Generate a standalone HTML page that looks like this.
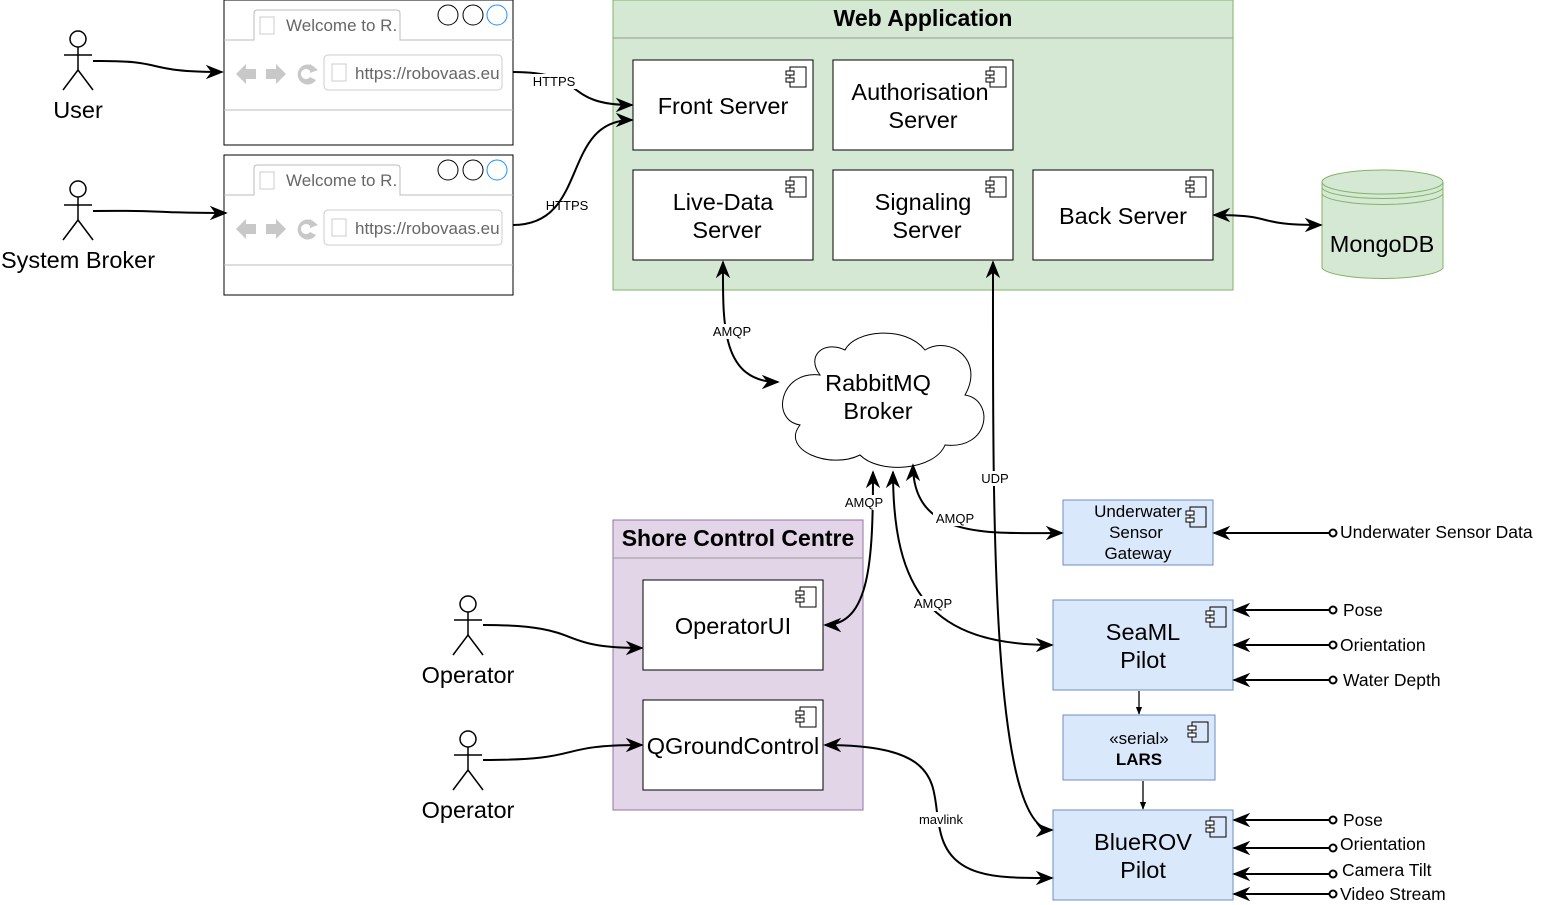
<!DOCTYPE html>
<html><head><meta charset="utf-8"><style>body{margin:0;background:#fff}svg{display:block;font-family:"Liberation Sans",Arial,sans-serif}</style></head><body>
<svg width="1544" height="905" viewBox="0 0 1544 905" xmlns="http://www.w3.org/2000/svg">
<defs>
<marker id="a" viewBox="0 0 10 10" refX="9" refY="5" markerWidth="9" markerHeight="9" orient="auto-start-reverse"><path d="M0,1 L10,5 L0,9 L3,5 Z" fill="#000"/></marker>
<marker id="s" viewBox="0 0 10 10" refX="9" refY="5" markerWidth="6" markerHeight="6" orient="auto-start-reverse"><path d="M0,1 L10,5 L0,9 Z" fill="#000"/></marker>
<marker id="o" viewBox="0 0 10 10" refX="5" refY="5" markerWidth="5" markerHeight="5"><circle cx="5" cy="5" r="3.5" fill="#fff" stroke="#000" stroke-width="2"/></marker>
<g id="ci"><rect x="4" y="0" width="16" height="20" fill="none" stroke="#000"/><rect x="0" y="4" width="8" height="4" fill="#fff" stroke="#000"/><rect x="0" y="11" width="8" height="4" fill="#fff" stroke="#000"/></g>
<g id="act" fill="none" stroke="#000" stroke-width="1.5"><circle cx="0" cy="9" r="8" fill="#fff"/><line x1="0" y1="17" x2="0" y2="40"/><line x1="-14" y1="25" x2="14" y2="25"/><line x1="0" y1="40" x2="-15" y2="60"/><line x1="0" y1="40" x2="15" y2="60"/></g>
</defs>

<g transform="translate(224,0)"><rect x="0" y="0" width="289" height="145" fill="#fff" stroke="#000"/>
<path d="M0,40 H30 V13 Q30,10 34,10 H172 Q176,10 176,13 V40 H289" fill="none" stroke="#bbb"/>
<line x1="0" y1="110" x2="289" y2="110" stroke="#bbb"/>
<rect x="36" y="17" width="14" height="17" fill="none" stroke="#ccc"/>
<text x="62" y="31" font-size="17" fill="#666">Welcome to R.</text>
<circle cx="224" cy="15" r="10" fill="#fff" stroke="#000"/><circle cx="249" cy="15" r="10" fill="#fff" stroke="#000"/><circle cx="273" cy="15" r="10" fill="#fff" stroke="#1e90ff"/>
<path d="M12,74 L22,64 V69 H32 V79 H22 V84 Z" fill="#c8c8c8"/><path d="M62,74 L52,64 V69 H42 V79 H52 V84 Z" fill="#c8c8c8"/>
<path d="M92,69 A10,10 0 1 0 92,80 L86,77 A5,5 0 1 1 86,71 Z" fill="#c8c8c8"/><path d="M86,64 L94,70 L86,73 Z" fill="#c8c8c8"/>
<rect x="100" y="55" width="178" height="35" rx="4" fill="#fff" stroke="#ccc"/>
<rect x="108" y="64" width="14" height="17" fill="none" stroke="#ccc"/>
<text x="131" y="79" font-size="17" fill="#666">https://robovaas.eu</text></g>
<g transform="translate(224,155)"><rect x="0" y="0" width="289" height="140" fill="#fff" stroke="#000"/>
<path d="M0,40 H30 V13 Q30,10 34,10 H172 Q176,10 176,13 V40 H289" fill="none" stroke="#bbb"/>
<line x1="0" y1="110" x2="289" y2="110" stroke="#bbb"/>
<rect x="36" y="17" width="14" height="17" fill="none" stroke="#ccc"/>
<text x="62" y="31" font-size="17" fill="#666">Welcome to R.</text>
<circle cx="224" cy="15" r="10" fill="#fff" stroke="#000"/><circle cx="249" cy="15" r="10" fill="#fff" stroke="#000"/><circle cx="273" cy="15" r="10" fill="#fff" stroke="#1e90ff"/>
<path d="M12,74 L22,64 V69 H32 V79 H22 V84 Z" fill="#c8c8c8"/><path d="M62,74 L52,64 V69 H42 V79 H52 V84 Z" fill="#c8c8c8"/>
<path d="M92,69 A10,10 0 1 0 92,80 L86,77 A5,5 0 1 1 86,71 Z" fill="#c8c8c8"/><path d="M86,64 L94,70 L86,73 Z" fill="#c8c8c8"/>
<rect x="100" y="55" width="178" height="35" rx="4" fill="#fff" stroke="#ccc"/>
<rect x="108" y="64" width="14" height="17" fill="none" stroke="#ccc"/>
<text x="131" y="79" font-size="17" fill="#666">https://robovaas.eu</text></g>

<use href="#act" x="78" y="30"/><text x="78" y="118" font-size="23.5" text-anchor="middle">User</text>
<use href="#act" x="78" y="180"/><text x="78" y="268" font-size="23.5" text-anchor="middle">System Broker</text>
<use href="#act" x="468" y="595"/><text x="468" y="683" font-size="23.5" text-anchor="middle">Operator</text>
<use href="#act" x="468" y="730"/><text x="468" y="818" font-size="23.5" text-anchor="middle">Operator</text>

<rect x="613" y="0" width="620" height="290" fill="#d5e8d4" stroke="#82b366"/>
<line x1="613" y1="38" x2="1233" y2="38" stroke="#999"/>
<text x="923" y="26" font-size="23" font-weight="bold" text-anchor="middle">Web Application</text>
<g fill="#fff" stroke="#000"><rect x="633" y="60" width="180" height="90"/><rect x="833" y="60" width="180" height="90"/><rect x="633" y="170" width="180" height="90"/><rect x="833" y="170" width="180" height="90"/><rect x="1033" y="170" width="180" height="90"/></g>
<use href="#ci" x="786" y="67"/><use href="#ci" x="986" y="67"/><use href="#ci" x="786" y="177"/><use href="#ci" x="986" y="177"/><use href="#ci" x="1186" y="177"/>
<g font-size="23.5" text-anchor="middle">
<text x="723" y="114">Front Server</text>
<text x="920" y="100">Authorisation</text><text x="923" y="128">Server</text>
<text x="723" y="210">Live-Data</text><text x="727" y="238">Server</text>
<text x="923" y="210">Signaling</text><text x="927" y="238">Server</text>
<text x="1123" y="224">Back Server</text>
</g>
<path d="M1322,182 V268 A61,12 0 0 0 1443,268 V182" fill="#d5e8d4" stroke="#82b366"/>
<ellipse cx="1382.5" cy="182" rx="60.5" ry="12" fill="#d5e8d4" stroke="#82b366"/>
<path d="M1322,188 A61,12 0 0 0 1443,188 M1322,194 A61,12 0 0 0 1443,194" fill="none" stroke="#82b366"/>
<text x="1382" y="252" font-size="23.5" text-anchor="middle">MongoDB</text>
<path d="M820,375 C780,370 770,420 800,425 C780,450 830,470 860,455 C880,475 935,470 945,445 C990,450 995,400 965,395 C985,360 950,335 925,350 C905,325 855,330 845,350 C825,340 805,355 820,375 Z" fill="#fff" stroke="#000"/>
<text x="878" y="391" font-size="23.5" text-anchor="middle">RabbitMQ</text><text x="878" y="419" font-size="23.5" text-anchor="middle">Broker</text>
<rect x="613" y="520" width="250" height="290" fill="#e1d5e7" stroke="#9673a6"/>
<line x1="613" y1="558" x2="863" y2="558" stroke="#999"/>
<text x="738" y="546" font-size="23" font-weight="bold" text-anchor="middle">Shore Control Centre</text>
<rect x="643" y="580" width="180" height="90" fill="#fff" stroke="#000"/><rect x="643" y="700" width="180" height="90" fill="#fff" stroke="#000"/>
<use href="#ci" x="796" y="587"/><use href="#ci" x="796" y="707"/>
<text x="733" y="634" font-size="23.5" text-anchor="middle">OperatorUI</text>
<text x="733" y="754" font-size="23.5" text-anchor="middle">QGroundControl</text>
<g fill="#dae8fc" stroke="#6c8ebf"><rect x="1063" y="500" width="150" height="65"/><rect x="1053" y="600" width="180" height="90"/><rect x="1063" y="715" width="152" height="65"/><rect x="1053" y="810" width="180" height="90"/></g>
<use href="#ci" x="1186" y="507"/><use href="#ci" x="1206" y="607"/><use href="#ci" x="1188" y="722"/><use href="#ci" x="1206" y="817"/>
<g text-anchor="middle">
<text x="1138" y="517" font-size="17">Underwater</text><text x="1136" y="538" font-size="17">Sensor</text><text x="1138" y="559" font-size="17">Gateway</text>
<text x="1143" y="640" font-size="23.5">SeaML</text><text x="1143" y="668" font-size="23.5">Pilot</text>
<text x="1139" y="744" font-size="17">«serial»</text><text x="1139" y="765" font-size="17" font-weight="bold">LARS</text>
<text x="1143" y="850" font-size="23.5">BlueROV</text><text x="1143" y="878" font-size="23.5">Pilot</text>
</g>
<g fill="none" stroke="#000" stroke-width="2">
<path d="M93,61 C170,60 140,72 222,72" marker-end="url(#a)"/>
<path d="M93,211 C170,210 140,213 226,213" marker-end="url(#a)"/>
<path d="M513,72 C590,72 560,105 632,105" marker-end="url(#a)"/>
<path d="M513,225 C590,225 560,120 632,120" marker-end="url(#a)"/>
<path d="M1214,215 C1280,215 1250,225 1321,225" marker-start="url(#a)" marker-end="url(#a)"/>
<path d="M723,262 C723,320 720,382 778,382" marker-start="url(#a)" marker-end="url(#a)"/>
<path d="M993,262 C993,500 990,830 1052,830" marker-start="url(#a)" marker-end="url(#a)"/>
<path d="M873,472 C873,560 870,625 825,625" marker-start="url(#a)" marker-end="url(#a)"/>
<path d="M913,465 C913,540 990,533 1062,533" marker-start="url(#a)" marker-end="url(#a)"/>
<path d="M893,472 C893,590 930,645 1052,645" marker-start="url(#a)" marker-end="url(#a)"/>
<path d="M483,625 C590,625 550,648 642,648" marker-end="url(#a)"/>
<path d="M483,760 C590,760 550,745 642,745" marker-end="url(#a)"/>
<path d="M825,745 C950,745 930,790 940,830 C950,880 1000,878 1052,878" marker-start="url(#a)" marker-end="url(#a)"/>
<path d="M1333,533 H1214" marker-start="url(#o)" marker-end="url(#a)"/>
<path d="M1333,610 H1234" marker-start="url(#o)" marker-end="url(#a)"/>
<path d="M1333,645 H1234" marker-start="url(#o)" marker-end="url(#a)"/>
<path d="M1333,680 H1234" marker-start="url(#o)" marker-end="url(#a)"/>
<path d="M1333,820 H1234" marker-start="url(#o)" marker-end="url(#a)"/>
<path d="M1333,848 H1234" marker-start="url(#o)" marker-end="url(#a)"/>
<path d="M1333,874 H1234" marker-start="url(#o)" marker-end="url(#a)"/>
<path d="M1333,894 H1234" marker-start="url(#o)" marker-end="url(#a)"/>
</g>
<g fill="none" stroke="#000" stroke-width="1.3"><path d="M1139,691 V714" marker-end="url(#s)"/><path d="M1143,781 V809" marker-end="url(#s)"/></g>
<g font-size="13" text-anchor="middle">
<rect x="530" y="74" width="48" height="15" fill="#fff"/><text x="554" y="86">HTTPS</text>
<rect x="543" y="198" width="48" height="15" fill="#d5e8d4" opacity="0"/><text x="567" y="210">HTTPS</text>
<rect x="710" y="324" width="45" height="15" fill="#fff"/><text x="732" y="336">AMQP</text>
<rect x="842" y="495" width="45" height="15" fill="#fff"/><text x="864" y="507">AMQP</text>
<rect x="933" y="511" width="45" height="15" fill="#fff"/><text x="955" y="523">AMQP</text>
<rect x="911" y="596" width="45" height="15" fill="#fff"/><text x="933" y="608">AMQP</text>
<rect x="978" y="471" width="34" height="15" fill="#fff"/><text x="995" y="483">UDP</text>
<rect x="916" y="812" width="50" height="15" fill="#fff"/><text x="941" y="824">mavlink</text>
</g>
<g font-size="17.5">
<text x="1340" y="538">Underwater Sensor Data</text>
<text x="1343" y="616">Pose</text><text x="1340" y="651">Orientation</text><text x="1343" y="686">Water Depth</text>
<text x="1343" y="826">Pose</text><text x="1340" y="850">Orientation</text><text x="1342" y="876">Camera Tilt</text><text x="1340" y="900">Video Stream</text>
</g>
</svg>
</body></html>
